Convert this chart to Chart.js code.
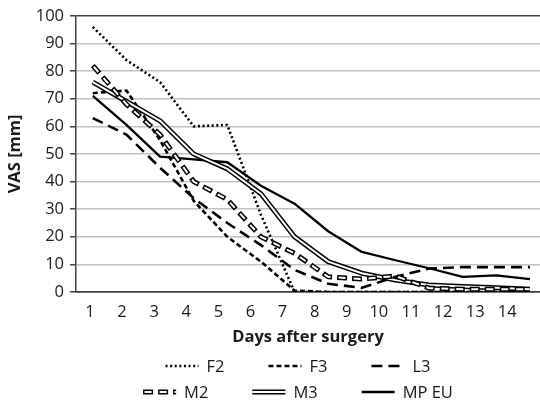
<!DOCTYPE html>
<html><head><meta charset="utf-8">
<script src="https://cdn.jsdelivr.net/npm/chart.js@4.4.1/dist/chart.umd.min.js"></script>
<style>html,body{margin:0;padding:0;background:#fff}#wrap{width:540px;height:403px}</style>
</head><body><div id="wrap"><canvas id="c" width="540" height="403"></canvas></div>
<script>
const days = [1,2,3,4,5,6,7,8,9,10,11,12,13,14];
const yTicks = [0,10,20,30,40,50,60,70,80,90,100];
const seriesNames = ['F2','F3','L3','M2','M3','MP EU'];
const F2   = [96, 84, 76, 60, 60.5, 28, 0, 0, 0, 0, 0, 0, 0, 0];
const F3   = [72, 73, 55, 33, 20, 11, 0.5, 0, 0, 0, 0, 0, 0, 0];
const L3   = [63, 57, 45, 34, 25, 17, 8, 3, 1.5, 5.5, 8.5, 9, 9, 9];
const M2   = [82, 68, 57, 40, 33.5, 20, 14, 5.5, 4.7, 5.8, 1.4, 1, 1, 1];
const M3   = [76, 69, 62, 50, 44.6, 35.6, 20, 11, 6.8, 4.3, 2.5, 2, 1.5, 1];
const MPEU = [71, 60.5, 49, 48, 47, 38.5, 32, 22, 14.5, 11.5, 8.6, 5.5, 6, 4.7];

const FONT = "'Open Sans', 'Noto Sans', sans-serif";
const TXT = '#1a1a1a';
const FS = 16.5;

const styles = {
  'F2':    {w:2.6, dash:[2,2.6]},
  'F3':    {w:2.6, dash:[5,3]},
  'L3':    {w:2.6, dash:[11,6]},
  'M2':    {w:5, dash:[10,5], inner:{w:2, dash:[7,8], off:-1.5}},
  'M3':    {w:5, dash:[], inner:{w:2, dash:[], off:0}},
  'MP EU': {w:2.3, dash:[]}
};
const seriesData = {'F2':F2,'F3':F3,'L3':L3,'M2':M2,'M3':M3,'MP EU':MPEU};

function pts(arr){ return arr.map((v,i)=>({x:days[i], y:v})); }
function base(label, data, w, dash, color, order, off){
  return {label, data:pts(data), borderColor:color, borderWidth:w, borderDash:dash,
    borderDashOffset:off||0, pointRadius:0, pointHoverRadius:0, tension:0, fill:false,
    borderCapStyle:'butt', borderJoinStyle:'round', xAxisID:'x', yAxisID:'y', order};
}
const datasets = [];
const orderMap = {'MP EU':7,'L3':6,'F3':5,'F2':4,'M3':2,'M2':0};
seriesNames.forEach(n=>{
  const s = styles[n];
  const o = orderMap[n];
  if (s.inner){
    datasets.push(base(n, seriesData[n], s.w, s.dash, '#000', o+1));
    datasets.push(base(n+'_in', seriesData[n], s.inner.w, s.inner.dash, '#fff', o, s.inner.off));
  } else {
    datasets.push(base(n, seriesData[n], s.w, s.dash, '#000', o));
  }
});

function strokeSample(ctx, x0, x1, y, w, dash, color, off){
  ctx.save();
  ctx.beginPath();
  ctx.lineWidth = w; ctx.strokeStyle = color; ctx.lineCap='butt';
  ctx.setLineDash(dash); ctx.lineDashOffset = off||0;
  ctx.moveTo(x0,y); ctx.lineTo(x1,y); ctx.stroke();
  ctx.restore();
}
const legendPlugin = {
  id:'customLegend',
  afterDraw(chart){
    const ctx = chart.ctx;
    const rows = [seriesNames.slice(0,3), seriesNames.slice(3)];
    const rowY = [chart.height-37, chart.height-11];
    const sampleW = 33, gapT = 8, gapItem = 44;
    const cx = 298;
    ctx.save();
    ctx.font = FS + 'px ' + FONT;
    rows.forEach((row, r)=>{
      const widths = row.map(n=> sampleW + gapT + ctx.measureText(n).width);
      const total = widths.reduce((a,b)=>a+b,0) + gapItem*(row.length-1);
      let x = cx - total/2;
      row.forEach((n,i)=>{
        const s = styles[n]; const y = rowY[r];
        strokeSample(ctx, x, x+sampleW, y, s.w, s.dash, '#000');
        if (s.inner) strokeSample(ctx, x, x+sampleW, y, s.inner.w, s.inner.dash, '#fff', s.inner.off);
        ctx.fillStyle = TXT; ctx.textBaseline='middle'; ctx.textAlign='left';
        ctx.font = FS + 'px ' + FONT;
        ctx.fillText(n, x+sampleW+gapT, y+1);
        x += widths[i] + gapItem;
      });
    });
    ctx.restore();
  }
};

new Chart(document.getElementById('c'), {
  type:'line',
  data:{datasets},
  options:{
    responsive:false, devicePixelRatio:1, animation:false,
    layout:{padding:{top:14,right:0,bottom:51,left:0}},
    plugins:{legend:{display:false}, tooltip:{enabled:false}},
    scales:{
      x:{type:'linear', display:false, min:0.5, max:14.3},
      x2:{type:'linear', position:'bottom', min:0.564, max:15.02,
        afterBuildTicks:s=>{ s.ticks = days.map(v=>({value:v})); },
        afterFit:s=>{ s.height = 60; },
        grid:{display:false, drawTicks:false},
        border:{display:true, color:'#404040', width:1.5},
        ticks:{autoSkip:false, maxRotation:0, padding:10, color:TXT, font:{family:FONT, size:FS},
          callback:v=>String(v)},
        title:{display:true, text:'Days after surgery', color:TXT,
          font:{family:FONT, size:FS, weight:'bold'}, padding:{top:0,bottom:5}}
      },
      y:{type:'linear', min:0, max:100,
        afterBuildTicks:s=>{ s.ticks = yTicks.map(v=>({value:v})); },
        afterFit:s=>{ s.width = 76; },
        grid:{color:c=>(c.tick && (c.tick.value===100 || c.tick.value===0)) ? '#404040' : '#c0c0c0',
          lineWidth:1.5, drawTicks:true, tickLength:6, tickColor:'#404040', tickWidth:1.5},
        border:{display:true, color:'#404040', width:1.5},
        ticks:{padding:6, color:TXT, font:{family:FONT, size:FS}},
        title:{display:true, text:'VAS [mm]', color:TXT,
          font:{family:FONT, size:FS, weight:'bold'}, padding:{top:5,bottom:0}}
      }
    }
  },
  plugins:[legendPlugin]
});
</script>
</body></html>
